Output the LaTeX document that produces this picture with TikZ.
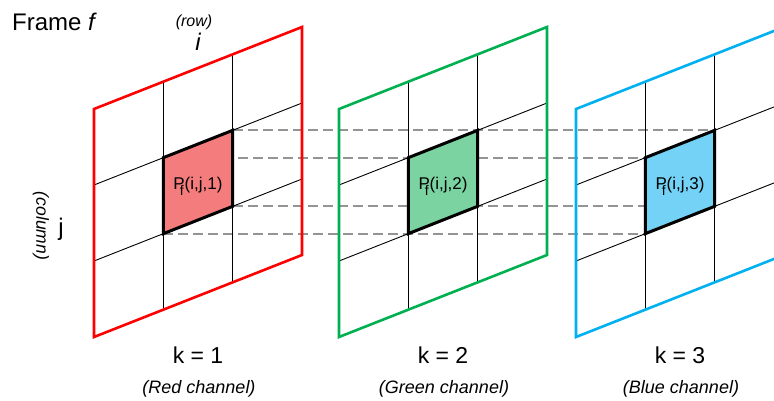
\documentclass[tikz,border=0pt]{standalone}
\usepackage{fontspec}
\setmainfont{Liberation Sans}
\usetikzlibrary{backgrounds}

\definecolor{redline}{RGB}{255,0,0}
\definecolor{greenline}{RGB}{0,176,80}
\definecolor{blueline}{RGB}{0,176,240}
\definecolor{redcell}{RGB}{244,124,124}
\definecolor{greencell}{RGB}{122,211,160}
\definecolor{bluecell}{RGB}{115,210,245}

\begin{document}
\begin{tikzpicture}[
  x=1pt, y=-1pt,
  frameline/.style={line width=2.6pt, line join=miter},
  gridline/.style={line width=0.9pt, black},
  cellbox/.style={line width=3pt, black, line join=miter},
  guide/.style={black!42, line width=1.9pt, dash pattern=on 10pt off 5pt},
  lbl/.style={inner sep=0pt, font=\fontsize{24}{28}\selectfont},
  klbl/.style={inner sep=0pt, font=\fontsize{23}{27}\selectfont, anchor=base},
  chlbl/.style={inner sep=0pt, font=\fontsize{18}{21}\selectfont\itshape, anchor=base},
  celllbl/.style={inner sep=0pt, font=\fontsize{17}{20}\selectfont, anchor=base}
]
\useasboundingbox (0,0) rectangle (774,400);
\clip (0,0) rectangle (774,400);

% Axis labels
\node[lbl, anchor=base west] (title) at (12,30) {Frame \textit{f}};
\node[inner sep=0pt, font=\fontsize{16}{19}\selectfont\itshape] (rowlbl) at (194,22) {(row)};
\node[lbl, anchor=base] (ilbl) at (198,50) {\itshape i};
\node[inner sep=0pt, rotate=-90, font=\fontsize{17.5}{20}\selectfont\itshape] (collbl) at (41,226) {(column)};
\node[lbl, anchor=base] (jlbl) at (61,235) {j};

% Channel planes
\foreach \ch/\xo/\lin/\fil/\chname in {1/94/redline/redcell/Red, 2/339/greenline/greencell/Green, 3/576/blueline/bluecell/Blue}{
  \begin{scope}[shift={(\xo,109)}, x={(69.333pt,27.333pt)}, y={(0pt,-76pt)}]
    \coordinate (tl\ch) at (1,1);
    \coordinate (tr\ch) at (2,1);
    \coordinate (br\ch) at (2,2);
    \coordinate (bl\ch) at (1,2);
    \fill[\fil] (tl\ch) -- (tr\ch) -- (br\ch) -- (bl\ch) -- cycle;
    \foreach \s in {1,2}{
      \draw[gridline] (\s,0) -- (\s,3);
      \draw[gridline] (0,\s) -- (3,\s);
    }
    \draw[frameline, \lin] (0,0) -- (3,0) -- (3,3) -- (0,3) -- cycle;
    \draw[cellbox] (tl\ch) -- (tr\ch) -- (br\ch) -- (bl\ch) -- cycle;
    \node[celllbl, yshift=-7pt] (pix\ch) at (1.5,1.5)
      {P\kern-5pt\raisebox{-6pt}{\fontsize{14}{14}\selectfont f}\kern1pt(i,j,\ch)};
  \end{scope}
  \node[klbl] (k\ch) at (\xo+104,363) {k = \ch};
  \node[chlbl] (name\ch) at (\xo+105,393.5) {(\chname\ channel)};
}

% Guides between the pixel corners
\begin{scope}[on background layer]
  \foreach \c in {tl,tr,br,bl}
    \draw[guide] (\c1) -- (\c3);
\end{scope}
\end{tikzpicture}
\end{document}
